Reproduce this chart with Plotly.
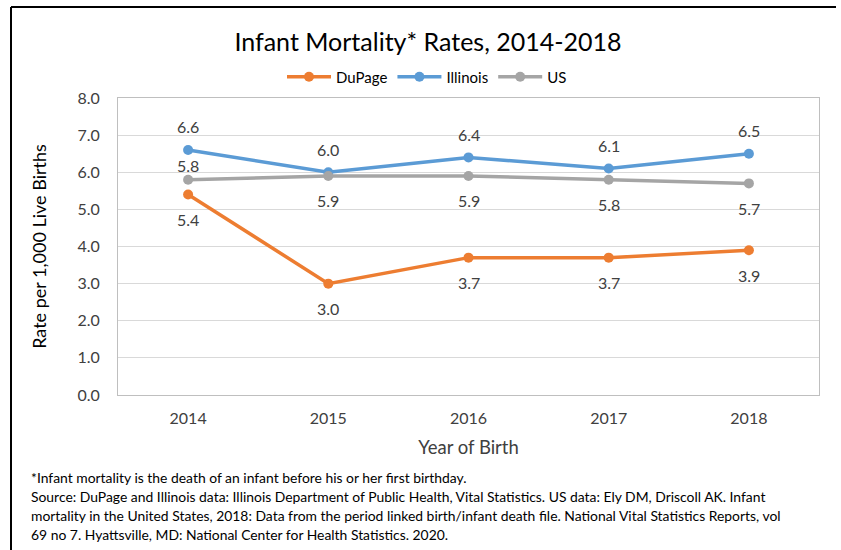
import plotly.graph_objects as go

years = ["2014", "2015", "2016", "2017", "2018"]
dupage = [5.4, 3.0, 3.7, 3.7, 3.9]
illinois = [6.6, 6.0, 6.4, 6.1, 6.5]
us = [5.8, 5.9, 5.9, 5.8, 5.7]
y_ticks = [0, 1, 2, 3, 4, 5, 6, 7, 8]
y_tick_labels = ["0.0", "1.0", "2.0", "3.0", "4.0", "5.0", "6.0", "7.0", "8.0"]

# label placement per point: "above" or "below"
dupage_label_pos = ["below", "below", "below", "below", "below"]
illinois_label_pos = ["above", "above", "above", "above", "above"]
us_label_pos = ["above_near", "below", "below", "below", "below"]

title_text = "Infant Mortality* Rates, 2014-2018"
footnotes = [
    "*Infant mortality is the death of an infant before his or her first birthday.",
    "Source: DuPage and Illinois data: Illinois Department of Public Health, Vital Statistics. US data: Ely DM, Driscoll AK. Infant",
    "mortality in the United States, 2018: Data from the period linked birth/infant death file. National Vital Statistics Reports, vol",
    "69 no 7. Hyattsville, MD: National Center for Health Statistics. 2020.",
]

FONT = "Lato, 'Open Sans', sans-serif"
W, H = 841, 550
ML, MR, MT, MB = 118, 22, 98, 155
PW, PH = W - ML - MR, H - MT - MB


def px_x(px):
    return (px - ML) / PW


def px_y(py):
    return (H - MB - py) / PH


SHIFT = {"above": 23, "above_near": 14, "below": -25}

fig = go.Figure()
annotations = []

series = [
    ("DuPage", dupage, "#ED7D31", dupage_label_pos),
    ("Illinois", illinois, "#5B9BD5", illinois_label_pos),
    ("US", us, "#A5A5A5", us_label_pos),
]
for name, vals, color, pos in series:
    fig.add_trace(go.Scatter(
        x=years, y=vals, name=name, mode="lines+markers",
        line=dict(color=color, width=3.5), marker=dict(size=10, color=color),
        hoverinfo="skip",
    ))
    for i, (yv, p) in enumerate(zip(vals, pos)):
        annotations.append(dict(
            x=i, y=yv, xref="x", yref="y", text=f"{yv:.1f}", showarrow=False,
            yshift=SHIFT[p], xanchor="center", yanchor="middle",
            font=dict(family=FONT, size=16, color="#404040"),
        ))

for i, line in enumerate(footnotes):
    annotations.append(dict(
        text=line, xref="paper", yref="paper", x=px_x(29), y=px_y(477 + i * 19.3),
        xanchor="left", yanchor="middle", showarrow=False,
        font=dict(family=FONT, size=13.9, color="#000000"),
    ))

shapes = [
    dict(type="line", xref="paper", yref="paper", x0=px_x(11), x1=px_x(836),
         y0=px_y(7), y1=px_y(7), line=dict(color="#000000", width=2)),
    dict(type="line", xref="paper", yref="paper", x0=px_x(11), x1=px_x(11),
         y0=px_y(7), y1=px_y(552), line=dict(color="#000000", width=2)),
]

fig.update_layout(
    width=W, height=H,
    margin=dict(l=ML, r=MR, t=MT, b=MB),
    paper_bgcolor="white", plot_bgcolor="white",
    font=dict(family=FONT, color="#595959"),
    title=dict(text=title_text, x=px_x(428), xref="paper", xanchor="center",
               y=1 - 42 / H, yanchor="middle",
               font=dict(family=FONT, size=25, color="#000000")),
    legend=dict(orientation="h", x=px_x(427), xanchor="center", y=px_y(77), yanchor="middle",
                font=dict(family=FONT, size=15, color="#000000"),
                itemwidth=44, bgcolor="rgba(0,0,0,0)"),
    showlegend=True,
    annotations=annotations,
    shapes=shapes,
)

fig.update_xaxes(
    type="category", range=[-0.5, 4.5],
    showgrid=False, showline=True, linecolor="#BFBFBF", linewidth=1, mirror=True,
    ticks="", ticklabelstandoff=9, tickfont=dict(family=FONT, size=16, color="#404040"),
    title=dict(text="Year of Birth", font=dict(family=FONT, size=18.5, color="#404040"), standoff=14),
)
fig.update_yaxes(
    range=[0, 8], tickvals=y_ticks, ticktext=y_tick_labels,
    showgrid=True, gridcolor="#D9D9D9", gridwidth=1,
    showline=True, linecolor="#BFBFBF", linewidth=1, mirror=True,
    ticks="", ticklabelstandoff=14, zeroline=False,
    tickfont=dict(family=FONT, size=16, color="#404040"),
    title=dict(text="Rate per 1,000 Live Births", font=dict(family=FONT, size=18, color="#000000"), standoff=26),
)

fig.write_html("out.html", config={"displayModeBar": False},
               post_script="document.body.style.margin='0px';")
